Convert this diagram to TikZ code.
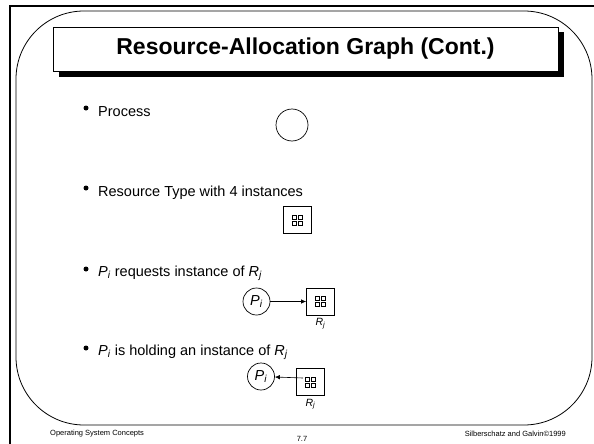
\documentclass[tikz,border=0pt]{standalone}
\usepackage{fontspec}
\setmainfont{Liberation Sans}
\usetikzlibrary{arrows.meta,shadows,positioning}

\newcommand{\Pidx}{\textit{P}\textsubscript{\textit{i}}}
\newcommand{\Ridx}{\textit{R}\textsubscript{\textit{j}}}

\tikzset{
	titlebox/.style={draw,fill=white,line width=0.6pt,minimum width=505pt,minimum height=44pt,
		font=\fontsize{23}{26}\selectfont\bfseries,
		drop shadow={fill=black,opacity=1,shadow xshift=6pt,shadow yshift=-5.5pt}},
	proc/.style={draw,circle,line width=0.7pt,minimum size=27pt,inner sep=0pt,font=\fontsize{14.5}{17}\selectfont},
	res/.style={draw,line width=0.7pt,minimum width=28pt,minimum height=27pt,inner sep=0pt,
		path picture={
			\foreach \gx in {-1,1}
				\foreach \gy in {-1,1}
					\draw[line width=0.5pt] ([shift={({\gx*3pt-2pt},{\gy*3pt-2pt})}]path picture bounding box.center) rectangle ++(4pt,4pt);
		}},
	bulletdot/.style={circle,fill=black,minimum size=5pt,inner sep=0pt},
	item/.style={anchor=base west,inner sep=0pt,font=\fontsize{14.5}{17}\selectfont},
	rlabel/.style={inner sep=0pt,font=\fontsize{10.5}{12}\selectfont},
	foot/.style={inner sep=0pt,font=\fontsize{7.5}{9}\selectfont},
	edge/.style={-{Latex[length=5pt,width=4.5pt]},line width=0.6pt}
}

\begin{document}
\begin{tikzpicture}[x=1pt,y=-1pt]
	\useasboundingbox (0,0) rectangle (594,444);
	
	% slide frame
	\draw[line width=2pt] (594,6) -- (10,6) -- (10,444);
	\draw[line width=0.8pt,rounded corners=68pt] (16,11) rectangle (592,425);
	
	\node[titlebox] (title) at (305.5,49) {Resource-Allocation Graph (Cont.)};
	
	% process
	\node[bulletdot] (b1) at (86,108) {};
	\node[item] (t1) at (98,116) {Process};
	\node[proc,minimum size=32pt] (proc) at (292,125) {};
	
	% resource type
	\node[bulletdot] (b2) at (86,188) {};
	\node[item] (t2) at (98,196) {Resource Type with 4 instances};
	\node[res] (rtype) at (297,220) {};
	
	% request edge
	\node[bulletdot] (b3) at (86,269) {};
	\node[item] (t3) at (98,276) {\Pidx{} requests instance of \Ridx};
	\node[proc] (preq) at (256.5,301.5) {\Pidx};
	\node[res] (rreq) at (320.5,301.5) {};
	\node[rlabel,below=3pt of rreq] (lreq) {\Ridx};
	\draw[edge] (preq) -- (rreq);
	
	% assignment edge
	\node[bulletdot] (b4) at (86,348) {};
	\node[item] (t4) at (98,355) {\Pidx{} is holding an instance of \Ridx};
	\node[proc] (phold) at (261,376.5) {\Pidx};
	\node[res] (rhold) at (310.5,382) {};
	\node[rlabel,below=3pt of rhold] (lhold) {\Ridx};
	\coordinate (hstart) at (303,378);
	\draw[edge] (hstart) -- (phold);
	
	% footer
	\node[foot,anchor=west] (course) at (50,434) {Operating System Concepts};
	\node[foot] (page) at (302,439) {7.7};
	\node[foot,anchor=east] (credit) at (566,434) {Silberschatz and Galvin©1999};
\end{tikzpicture}
\end{document}
